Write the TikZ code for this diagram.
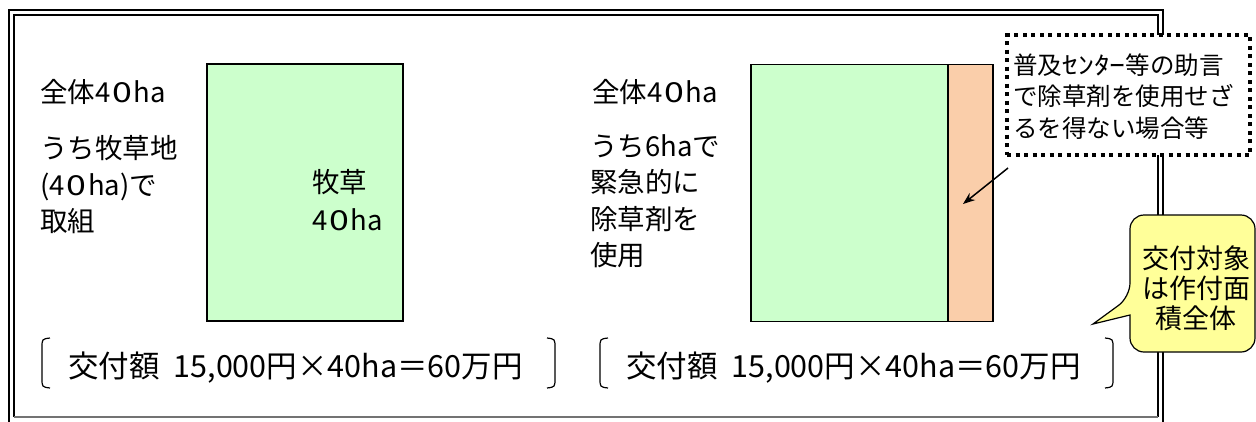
\documentclass[tikz,border=0pt]{standalone}
\usepackage{fontspec}
\usetikzlibrary{arrows.meta}
\setmainfont{Noto Sans CJK JP}
\newfontfamily\pwfont[RawFeature=+pwid]{Noto Sans CJK JP}
\newcommand{\pw}[1]{{\pwfont #1}}
\newcommand{\fortyha}{{\pwfont ４\kern2pt\scalebox{1.3}[1]{０}\kern1.5pt}ha}
\definecolor{grass}{RGB}{204,255,204}
\definecolor{peach}{RGB}{250,206,170}
\definecolor{callout}{RGB}{255,255,153}
\begin{document}
\begin{tikzpicture}[x=1pt,y=-1pt,
  field/.style={draw,line width=1.5pt,minimum width=#1,minimum height=257pt,inner sep=0pt},
  bigtxt/.style={font=\fontsize{27.5}{36.5}\selectfont,anchor=west,inner sep=0pt,align=left},
  sumtxt/.style={font=\fontsize{30.5}{34}\selectfont,inner sep=0pt,anchor=west},
  brk/.style={line width=1.2pt}]
\useasboundingbox (0,0) rectangle (1256,421);
% frame
\draw[line width=2pt] (9,440) -- (9,10) -- (1163,10) -- (1163,440);
\draw[line width=1.4pt] (14,417) -- (14,15) -- (1158,15) -- (1158,417);
\draw[line width=1.2pt,black!55] (14,417) -- (1158,417);
% left case
\node[field=196pt,fill=grass] (g1) at (305,192.5) {};
\node[bigtxt,font=\fontsize{27.5}{38}\selectfont] (g1t) at (312,200) {牧草\\\fortyha};
\node[bigtxt] (l1) at (40,92) {全体\fortyha};
\node[bigtxt] (l2) at (40,185) {うち牧草地\\\pw{（}\fortyha\pw{）}で\\取組};
% right case
\node[field=197pt,fill=grass] (g2) at (849.5,193) {};
\node[field=45pt,fill=peach] (o2) at (970.5,193) {};
\node[bigtxt] (r1) at (592,92) {全体\fortyha};
\node[bigtxt] (r2) at (590,201) {うち\pw{６}haで\\緊急的に\\除草剤を\\使用};
% note
\node[draw,line width=3.5pt,dash pattern=on 4pt off 4.5pt,fill=white,
      minimum width=243pt,minimum height=120pt,inner sep=0pt] (note) at (1128.5,95) {};
\node[font=\fontsize{24.5}{31.5}\selectfont,align=left,anchor=west,inner sep=0pt] (notet) at (1013,96.5)
  {普及\scalebox{1.3}[1]{ｾﾝﾀｰ}等の助言\\で除草剤を使用せざ\\るを得ない場合等};
\coordinate (a1) at (1008,168);
\coordinate (a2) at (963,204);
\draw[line width=1.5pt,-{Stealth[length=12pt,width=9pt]}] (a1) -- (a2);
% callout
\draw[line width=1.2pt,fill=callout] (1093,324) -- (1130,315) [rounded corners=14pt] -- (1130,352) -- (1255,352) -- (1255,215) -- (1130,215) -- (1130,297) [sharp corners] -- cycle;
\node[font=\fontsize{27}{30}\selectfont,align=center,inner sep=0pt] (callt) at (1196,288) {交付対象\\は作付面\\積全体};
% sums
\node[sumtxt] (s1) at (68,368) {交付額\hspace{14pt}15,000円×40ha＝60万円};
\draw[brk] (50,338) .. controls (42,339) .. (42,348) -- (42,378) .. controls (42,387) .. (50,388);
\draw[brk] (547,338) .. controls (555,339) .. (555,348) -- (555,378) .. controls (555,387) .. (547,388);
\node[sumtxt] (s2) at (626,368) {交付額\hspace{14pt}15,000円×40ha＝60万円};
\draw[brk] (608,338) .. controls (600,339) .. (600,348) -- (600,378) .. controls (600,387) .. (608,388);
\draw[brk] (1105,338) .. controls (1113,339) .. (1113,348) -- (1113,378) .. controls (1113,387) .. (1105,388);
\end{tikzpicture}
\end{document}
